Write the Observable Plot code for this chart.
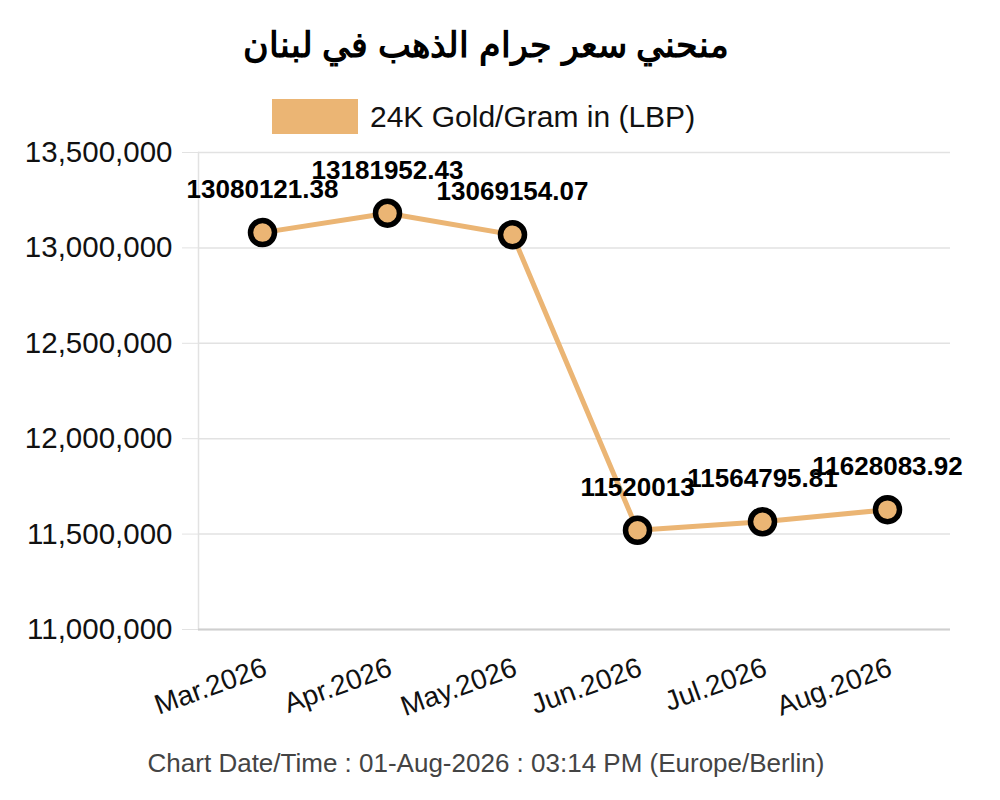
<!DOCTYPE html>
<html>
<head>
<meta charset="utf-8">
<script src="https://cdn.jsdelivr.net/npm/d3@7"></script>
<script src="https://cdn.jsdelivr.net/npm/@observablehq/plot@0.6"></script>
<style>
  html, body { margin: 0; padding: 0; background: #fff; }
  body { width: 1000px; height: 800px; position: relative; font-family: "Liberation Sans", Arial, sans-serif; overflow: hidden; }
  #title { position: absolute; top: 25px; left: 0; width: 972px; text-align: center; font-size: 35px; font-weight: bold; color: #000; font-family: "Liberation Sans", sans-serif; direction: rtl; z-index: 2; }
  #legend { position: absolute; top: 99px; left: 272px; height: 35px; display: flex; align-items: center; z-index: 2; }
  #legend .sw { width: 86px; height: 35px; background: #EBB574; }
  #legend .lb { margin-left: 12px; font-size: 30px; color: #111; }
  #chart { position: absolute; top: 120px; left: 0; z-index: 1; }
  #footer { position: absolute; top: 748px; left: 0; width: 972px; text-align: center; font-size: 26px; color: #444; z-index: 2; }
</style>
</head>
<body>
<div id="title">منحني سعر جرام الذهب في لبنان</div>
<div id="legend"><div class="sw"></div><div class="lb">24K Gold/Gram in (LBP)</div></div>
<div id="chart"></div>
<div id="footer">Chart Date/Time : 01-Aug-2026 : 03:14 PM (Europe/Berlin)</div>
<script>
const months = ["Mar.2026", "Apr.2026", "May.2026", "Jun.2026", "Jul.2026", "Aug.2026"];
const prices = [13080121.38, 13181952.43, 13069154.07, 11520013, 11564795.81, 11628083.92];
const priceLabels = ["13080121.38", "13181952.43", "13069154.07", "11520013", "11564795.81", "11628083.92"];
const yTicks = [11000000, 11500000, 12000000, 12500000, 13000000, 13500000];

const data = months.map((m, i) => ({month: m, price: prices[i], label: priceLabels[i]}));
const color = "#EBB574";

const plot = Plot.plot({
  width: 1000,
  height: 620,
  marginTop: 32,
  marginBottom: 111,
  marginLeft: 198,
  marginRight: 50,
  style: {fontFamily: "Liberation Sans, Arial, sans-serif", background: "transparent", overflow: "visible"},
  x: {type: "point", domain: months, padding: 0.5},
  y: {domain: [11000000, 13500000]},
  marks: [
    Plot.gridY(yTicks, {stroke: "#e2e2e2", strokeOpacity: 1, strokeWidth: 1.5}),
    Plot.frame({anchor: "left", stroke: "#e2e2e2", strokeWidth: 1.5}),
    Plot.axisY(yTicks, {
      tickFormat: d3.format(","), tickSize: 16, tickPadding: 10,
      stroke: "#e2e2e2", fontSize: 29.5, fill: "#111", label: null
    }),
    Plot.ruleY([yTicks[0]], {stroke: "#cfcfcf", strokeWidth: 2}),
    Plot.axisX({
      tickRotate: -20, tickSize: 0, tickPadding: 37, dx: 3, fontSize: 28, fill: "#111", label: null
    }),
    Plot.line(data, {x: "month", y: "price", stroke: color, strokeWidth: 5}),
    Plot.dot(data, {x: "month", y: "price", r: 12, fill: color, stroke: "#000", strokeWidth: 5.5}),
    Plot.text(data, {x: "month", y: "price", text: "label", dy: -43, fontSize: 26, fontWeight: "bold", fill: "#000"})
  ]
});
document.getElementById("chart").appendChild(plot);
</script>
</body>
</html>
